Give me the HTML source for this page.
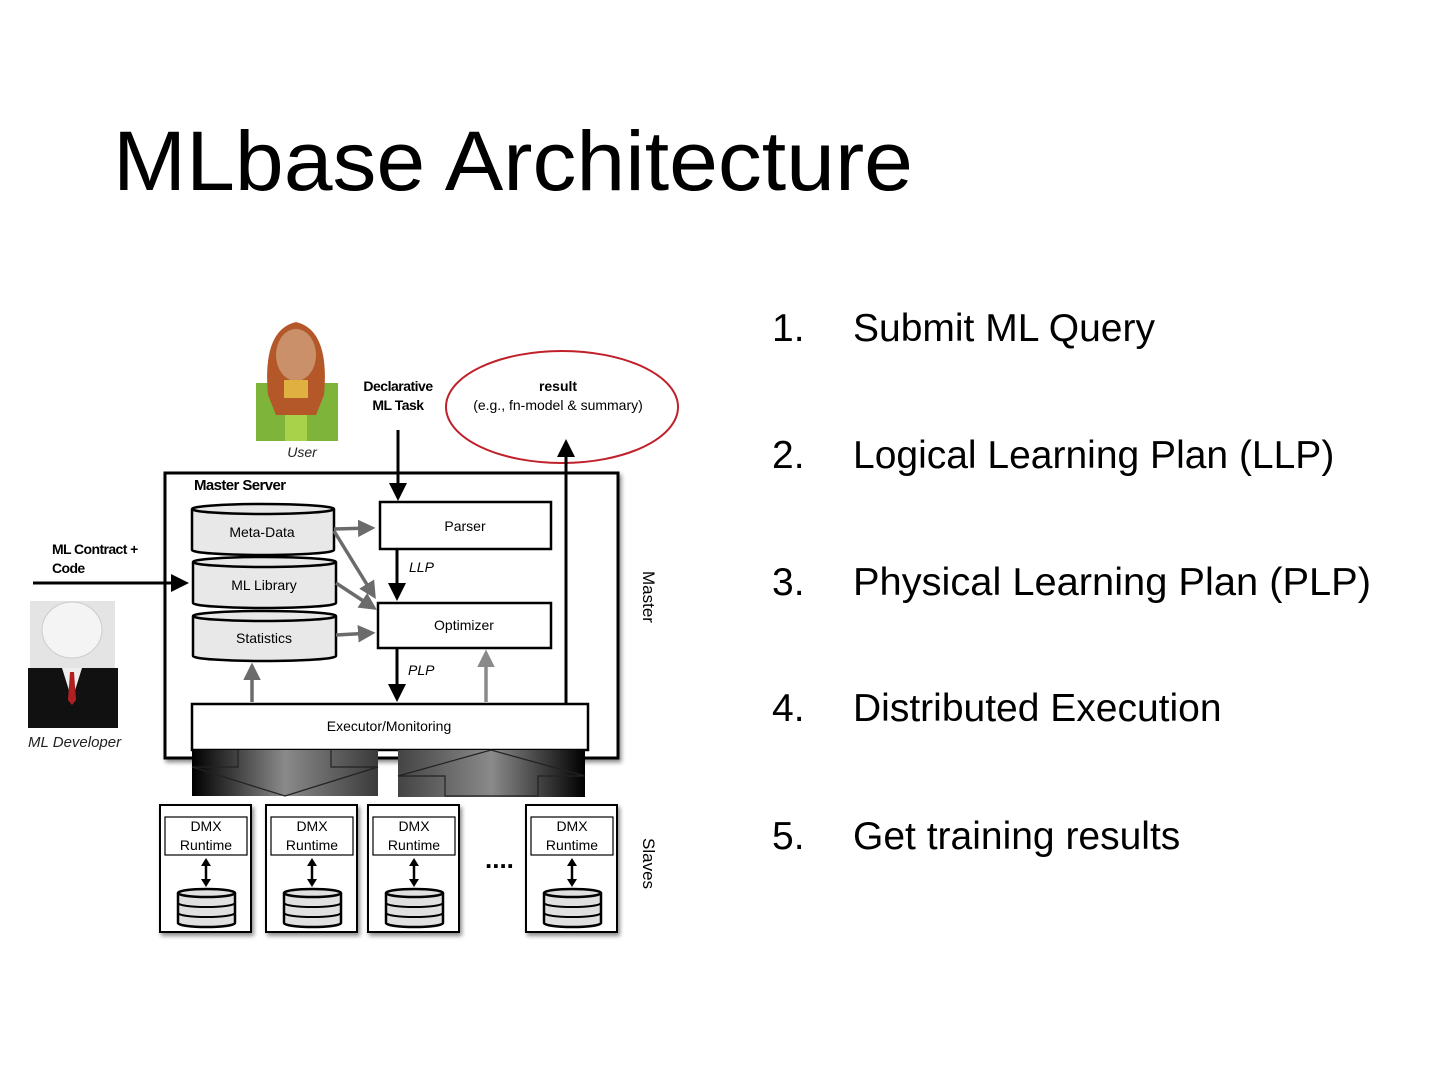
<!DOCTYPE html>
<html><head><meta charset="utf-8"><style>
html,body{margin:0;padding:0;background:#fff;}
svg{display:block;font-family:"Liberation Sans",sans-serif;}
</style></head><body>
<svg width="1440" height="1080" viewBox="0 0 1440 1080" xmlns="http://www.w3.org/2000/svg">
<defs>
<marker id="ab" markerWidth="6" markerHeight="6" refX="5" refY="3" orient="auto" markerUnits="strokeWidth"><path d="M0,0 L6,3 L0,6 Z" fill="#000"/></marker>
<marker id="ag" markerWidth="5" markerHeight="5" refX="4" refY="2.5" orient="auto" markerUnits="strokeWidth"><path d="M0,0 L5,2.5 L0,5 Z" fill="#6b6b6b"/></marker>
<marker id="ag2" markerWidth="5" markerHeight="5" refX="4" refY="2.5" orient="auto" markerUnits="strokeWidth"><path d="M0,0 L5,2.5 L0,5 Z" fill="#8a8a8a"/></marker>
<linearGradient id="gr" x1="0" x2="1" y1="0" y2="0"><stop offset="0" stop-color="#000"/><stop offset="0.5" stop-color="#8a8a8a"/><stop offset="1" stop-color="#3a3a3a"/></linearGradient>
<linearGradient id="gr2" x1="0" x2="1" y1="0" y2="0"><stop offset="0" stop-color="#444"/><stop offset="0.5" stop-color="#8a8a8a"/><stop offset="1" stop-color="#000"/></linearGradient>
<filter id="sh" x="-10%" y="-10%" width="130%" height="130%"><feDropShadow dx="2" dy="3" stdDeviation="2" flood-color="#000" flood-opacity="0.45"/></filter>
</defs>

<text x="113" y="190" font-size="84" textLength="800" lengthAdjust="spacingAndGlyphs">MLbase Architecture</text>

<g font-size="39">
<text x="772" y="341">1.</text><text x="853" y="341">Submit ML Query</text>
<text x="772" y="468">2.</text><text x="853" y="468">Logical Learning Plan (LLP)</text>
<text x="772" y="595">3.</text><text x="853" y="595" textLength="518" lengthAdjust="spacingAndGlyphs">Physical Learning Plan (PLP)</text>
<text x="772" y="721">4.</text><text x="853" y="721">Distributed Execution</text>
<text x="772" y="849">5.</text><text x="853" y="849">Get training results</text>
</g>

<!-- User -->
<rect x="256" y="383" width="82" height="58" fill="#7fb43a"/>
<rect x="285" y="383" width="22" height="58" fill="#a8d24a"/>
<path d="M268,395 Q262,330 296,322 Q330,330 324,395 L316,415 L276,415 Z" fill="#b4582a"/>
<ellipse cx="296" cy="355" rx="20" ry="26" fill="#c9906a"/>
<rect x="284" y="380" width="24" height="18" fill="#e0b040"/>
<text x="302" y="457" font-size="14" font-style="italic" text-anchor="middle" fill="#222">User</text>

<!-- Developer -->
<rect x="30" y="601" width="85" height="70" fill="#e4e4e4"/>
<ellipse cx="72" cy="630" rx="30" ry="28" fill="#f4f4f4" stroke="#ccc"/>
<rect x="28" y="668" width="90" height="60" fill="#111"/>
<path d="M62,668 L72,700 L82,668 Z" fill="#eee"/>
<path d="M70,672 L74,672 L76,700 L72,705 L68,700 Z" fill="#b02020"/>
<text x="28" y="747" font-size="15" font-style="italic" fill="#222">ML Developer</text>

<!-- Declarative, result -->
<text x="398" y="391" font-size="14" font-weight="bold" text-anchor="middle" letter-spacing="-0.5">Declarative</text>
<text x="398" y="410" font-size="14" font-weight="bold" text-anchor="middle" letter-spacing="-0.5">ML Task</text>
<ellipse cx="562" cy="407" rx="116" ry="56" fill="none" stroke="#c0202a" stroke-width="2"/>
<text x="558" y="391" font-size="14" font-weight="bold" text-anchor="middle">result</text>
<text x="558" y="410" font-size="14" text-anchor="middle">(e.g., fn-model &amp; summary)</text>

<!-- Master -->
<rect x="165" y="473" width="453" height="285" fill="#fff" stroke="#000" stroke-width="3" filter="url(#sh)"/>
<text x="194" y="490" font-size="15" font-weight="bold" letter-spacing="-0.6">Master Server</text>
<text transform="translate(643,571) rotate(90)" font-size="17">Master</text>

<line x1="398" y1="430" x2="398" y2="498" stroke="#000" stroke-width="3" marker-end="url(#ab)"/>
<line x1="566" y1="704" x2="566" y2="442" stroke="#000" stroke-width="3" marker-end="url(#ab)"/>

<rect x="380" y="502" width="171" height="47" fill="#fff" stroke="#000" stroke-width="2.5"/>
<text x="465" y="531" font-size="14" text-anchor="middle">Parser</text>
<rect x="378" y="603" width="173" height="45" fill="#fff" stroke="#000" stroke-width="2.5"/>
<text x="464" y="630" font-size="14" text-anchor="middle">Optimizer</text>

<line x1="397" y1="550" x2="397" y2="598" stroke="#000" stroke-width="3" marker-end="url(#ab)"/>
<text x="409" y="572" font-size="14" font-style="italic">LLP</text>
<line x1="397" y1="649" x2="397" y2="699" stroke="#000" stroke-width="3" marker-end="url(#ab)"/>
<text x="408" y="675" font-size="14" font-style="italic">PLP</text>

<!-- cylinders -->
<g stroke="#000" stroke-width="2.5" fill="#e8e8e8">
<path d="M192,509 L192,550 A71,5 0 0 0 334,550 L334,509"/><ellipse cx="263" cy="509" rx="71" ry="5"/>
<path d="M193,562 L193,603 A71.5,5 0 0 0 336,603 L336,562"/><ellipse cx="264.5" cy="562" rx="71.5" ry="5"/>
<path d="M193,616 L193,656 A71.5,5 0 0 0 336,656 L336,616"/><ellipse cx="264.5" cy="616" rx="71.5" ry="5"/>
</g>
<text x="262" y="537" font-size="14" text-anchor="middle">Meta-Data</text>
<text x="264" y="590" font-size="14" text-anchor="middle">ML Library</text>
<text x="264" y="643" font-size="14" text-anchor="middle">Statistics</text>

<g stroke="#6b6b6b" stroke-width="3.5" fill="none">
<line x1="334" y1="529" x2="372" y2="528" marker-end="url(#ag)"/>
<line x1="334" y1="531" x2="374" y2="596" marker-end="url(#ag)"/>
<line x1="336" y1="583" x2="374" y2="608" marker-end="url(#ag)"/>
<line x1="336" y1="635" x2="372" y2="633" marker-end="url(#ag)"/>
<line x1="252" y1="702" x2="252" y2="666" marker-end="url(#ag)"/>
</g>
<line x1="486" y1="702" x2="486" y2="653" stroke="#8a8a8a" stroke-width="3.5" marker-end="url(#ag2)"/>

<line x1="33" y1="583" x2="186" y2="583" stroke="#000" stroke-width="3" marker-end="url(#ab)"/>
<text x="52" y="554" font-size="14" font-weight="bold" letter-spacing="-0.6">ML Contract +</text>
<text x="52" y="573" font-size="14" font-weight="bold" letter-spacing="-0.6">Code</text>

<rect x="192" y="704" width="396" height="46" fill="#fff" stroke="#000" stroke-width="2.5"/>
<text x="389" y="731" font-size="14" text-anchor="middle">Executor/Monitoring</text>

<!-- gradient arrows -->
<rect x="192" y="750" width="186" height="46" fill="url(#gr)"/>
<path d="M238,750 L238,767 L192,767 L285,796 L378,767 L331,767 L331,750" fill="none" stroke="#222" stroke-width="1.2"/>
<rect x="398" y="750" width="187" height="47" fill="url(#gr2)"/>
<path d="M398,776 L491,750 L585,776 L538,776 L538,796 L445,796 L445,776 Z" fill="none" stroke="#222" stroke-width="1.2"/>

<!-- slaves -->
<g id="sl">
<g>
<rect x="160" y="805" width="91" height="127" fill="#fff" stroke="#000" stroke-width="2" filter="url(#sh)"/>
<rect x="165" y="817" width="82" height="38" fill="#fff" stroke="#000" stroke-width="1.2"/>
<text x="206" y="831" font-size="14" text-anchor="middle">DMX</text>
<text x="206" y="850" font-size="14" text-anchor="middle">Runtime</text>
<line x1="206" y1="860" x2="206" y2="884" stroke="#000" stroke-width="2.5"/>
<path d="M201,866 L206,858 L211,866 Z M201,879 L206,887 L211,879 Z"/>
<g stroke="#000" stroke-width="2.5" fill="#e0e0e0">
<path d="M178,893 L178,923 A28.5,4 0 0 0 235,923 L235,893"/><ellipse cx="206.5" cy="893" rx="28.5" ry="4"/>
<path d="M178,903 A28.5,4 0 0 0 235,903 M178,913 A28.5,4 0 0 0 235,913" fill="none" stroke-width="2"/>
</g>
</g>
</g>
<use href="#sl" x="106"/>
<use href="#sl" x="208"/>
<use href="#sl" x="366"/>
<text x="485" y="868" font-size="26" font-weight="bold">....</text>
<text transform="translate(643,838) rotate(90)" font-size="17">Slaves</text>
</svg>
</body></html>
